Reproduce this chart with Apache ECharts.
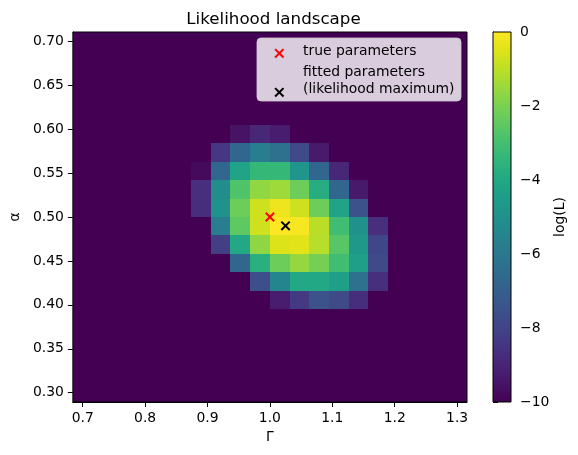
<!DOCTYPE html>
<html>
<head>
<meta charset="utf-8">
<script src="https://cdn.jsdelivr.net/npm/echarts@6/dist/echarts.min.js"></script>
<style>
  html, body { margin: 0; padding: 0; background: #fff; }
  #chart { width: 578px; height: 455px; }
</style>
</head>
<body>
<div id="chart"></div>
<script>
// grid of parameter values (cell centres)
const gammaValues = [0.7000, 0.7316, 0.7632, 0.7947, 0.8263, 0.8579, 0.8895, 0.9211, 0.9526, 0.9842,
                     1.0158, 1.0474, 1.0789, 1.1105, 1.1421, 1.1737, 1.2053, 1.2368, 1.2684, 1.3000];
const alphaValues = [0.3000, 0.3211, 0.3421, 0.3632, 0.3842, 0.4053, 0.4263, 0.4474, 0.4684, 0.4895,
                     0.5105, 0.5316, 0.5526, 0.5737, 0.5947, 0.6158, 0.6368, 0.6579, 0.6789, 0.7000];

// log-likelihood, one row per alpha value (clipped at -10)
const logL = [
  [-10,-10,-10,-10,-10,-10,-10,-10,-10,-10,-10,-10,-10,-10,-10,-10,-10,-10,-10,-10],
  [-10,-10,-10,-10,-10,-10,-10,-10,-10,-10,-10,-10,-10,-10,-10,-10,-10,-10,-10,-10],
  [-10,-10,-10,-10,-10,-10,-10,-10,-10,-10,-10,-10,-10,-10,-10,-10,-10,-10,-10,-10],
  [-10,-10,-10,-10,-10,-10,-10,-10,-10,-10,-10,-10,-10,-10,-10,-10,-10,-10,-10,-10],
  [-10,-10,-10,-10,-10,-10,-10,-10,-10,-10,-10,-10,-10,-10,-10,-10,-10,-10,-10,-10],
  [-10,-10,-10,-10,-10,-10,-10,-10,-10,-10,-9.2,-8.3,-7.5,-7.8,-8.7,-10,-10,-10,-10,-10],
  [-10,-10,-10,-10,-10,-10,-10,-10,-10,-7.6,-5.45,-4.0,-4.0,-4.4,-6.3,-8.65,-10,-10,-10,-10],
  [-10,-10,-10,-10,-10,-10,-10,-10,-6.7,-3.7,-2.25,-1.6,-2.1,-3.1,-4.4,-7.8,-10,-10,-10,-10],
  [-10,-10,-10,-10,-10,-10,-10,-8.15,-4.0,-1.7,-0.55,-0.45,-1.1,-2.65,-4.7,-7.9,-10,-10,-10,-10],
  [-10,-10,-10,-10,-10,-10,-10,-5.8,-2.5,-0.75,0,-0.1,-1.05,-3.1,-5.0,-8.65,-10,-10,-10,-10],
  [-10,-10,-10,-10,-10,-10,-8.7,-5.0,-2.25,-0.75,-0.25,-0.75,-2.25,-4.2,-7.5,-10,-10,-10,-10,-10],
  [-10,-10,-10,-10,-10,-10,-8.65,-5.1,-2.8,-1.65,-1.45,-2.25,-3.8,-6.7,-9.3,-10,-10,-10,-10,-10],
  [-10,-10,-10,-10,-10,-10,-9.75,-6.7,-4.2,-3.35,-3.35,-4.8,-6.7,-8.9,-10,-10,-10,-10,-10,-10],
  [-10,-10,-10,-10,-10,-10,-10,-8.4,-6.7,-5.8,-6.3,-7.8,-9.3,-10,-10,-10,-10,-10,-10,-10],
  [-10,-10,-10,-10,-10,-10,-10,-10,-9.5,-8.9,-9.2,-10,-10,-10,-10,-10,-10,-10,-10,-10],
  [-10,-10,-10,-10,-10,-10,-10,-10,-10,-10,-10,-10,-10,-10,-10,-10,-10,-10,-10,-10],
  [-10,-10,-10,-10,-10,-10,-10,-10,-10,-10,-10,-10,-10,-10,-10,-10,-10,-10,-10,-10],
  [-10,-10,-10,-10,-10,-10,-10,-10,-10,-10,-10,-10,-10,-10,-10,-10,-10,-10,-10,-10],
  [-10,-10,-10,-10,-10,-10,-10,-10,-10,-10,-10,-10,-10,-10,-10,-10,-10,-10,-10,-10],
  [-10,-10,-10,-10,-10,-10,-10,-10,-10,-10,-10,-10,-10,-10,-10,-10,-10,-10,-10,-10]
];

const trueParams = [[1.0, 0.5]];
const fittedParams = [[1.025, 0.490]];

const gammaTicks = [0.7, 0.8, 0.9, 1.0, 1.1, 1.2, 1.3];
const alphaTicks = [0.30, 0.35, 0.40, 0.45, 0.50, 0.55, 0.60, 0.65, 0.70];

const viridis = ['#440154', '#471365', '#482475', '#463480', '#414487', '#3b528b', '#355f8d',
                 '#2f6c8e', '#2a788e', '#25848e', '#21918c', '#1e9c89', '#22a884', '#2fb47c',
                 '#44bf70', '#5ec962', '#7ad151', '#9bd93c', '#bddf26', '#dfe318', '#fde725'];

const FONT = 'DejaVu Sans';
const dGamma = (gammaValues[1] - gammaValues[0]) / 2;
const dAlpha = (alphaValues[1] - alphaValues[0]) / 2;

const cells = [];
alphaValues.forEach((a, j) => {
  gammaValues.forEach((g, i) => {
    cells.push([g, a, logL[j][i]]);
  });
});

const chart = echarts.init(document.getElementById('chart'), null, { renderer: 'canvas' });

const renderCross = (color) => (params, api) => {
  const p = api.coord([api.value(0), api.value(1)]);
  const h = 4.2;
  const style = { stroke: color, lineWidth: 2 };
  return {
    type: 'group',
    children: [
      { type: 'line', shape: { x1: p[0] - h, y1: p[1] - h, x2: p[0] + h, y2: p[1] + h }, style },
      { type: 'line', shape: { x1: p[0] - h, y1: p[1] + h, x2: p[0] + h, y2: p[1] - h }, style }
    ]
  };
};

const minus = (v) => String(v).replace('-', '\u2212');

// legend box drawn by hand (matplotlib style)
const LX = 257, LY = 38;
const crossLines = (cx, cy, color) => [
  { type: 'line', z: 20, shape: { x1: cx - 4.2, y1: cy - 4.2, x2: cx + 4.2, y2: cy + 4.2 },
    style: { stroke: color, lineWidth: 2 } },
  { type: 'line', z: 20, shape: { x1: cx - 4.2, y1: cy + 4.2, x2: cx + 4.2, y2: cy - 4.2 },
    style: { stroke: color, lineWidth: 2 } }
];
const legendText = (text, y) => ({
  type: 'text', z: 20, x: LX + 46, y: LY + y,
  style: { text, fontFamily: FONT, fontSize: 13.9, fill: '#000', verticalAlign: 'middle', align: 'left' }
});

const option = {
  backgroundColor: '#fff',
  animation: false,
  textStyle: { fontFamily: FONT },
  title: {
    text: 'Likelihood landscape',
    left: 268.5,
    textAlign: 'center',
    top: 6,
    textStyle: { fontFamily: FONT, fontSize: 16.7, fontWeight: 'normal', color: '#000' }
  },
  grid: [
    { left: 70, top: 32, width: 397, height: 370, show: true, z: 3,
      backgroundColor: 'transparent', borderColor: '#000', borderWidth: 1 },
    { left: 493, top: 32, width: 18, height: 370 }
  ],
  xAxis: [
    {
      type: 'value', gridIndex: 0,
      min: gammaValues[0] - dGamma, max: gammaValues[gammaValues.length - 1] + dGamma,
      name: 'Γ', nameLocation: 'middle', nameGap: 27,
      nameTextStyle: { fontFamily: FONT, fontSize: 13.9, color: '#000' },
      axisLine: { show: true, lineStyle: { color: '#000', width: 1 } },
      axisTick: { show: true, length: 5, lineStyle: { color: '#000' }, customValues: gammaTicks },
      axisLabel: { color: '#000', fontSize: 13.9, fontFamily: FONT, margin: 9,
                   customValues: gammaTicks, formatter: (v) => v.toFixed(1) },
      splitLine: { show: false }
    },
    { type: 'value', gridIndex: 1, min: 0, max: 1, show: false }
  ],
  yAxis: [
    {
      type: 'value', gridIndex: 0,
      min: alphaValues[0] - dAlpha, max: alphaValues[alphaValues.length - 1] + dAlpha,
      name: 'α', nameLocation: 'middle', nameGap: 48,
      nameTextStyle: { fontFamily: FONT, fontSize: 13.9, color: '#000' },
      axisLine: { show: true, lineStyle: { color: '#000', width: 1 } },
      axisTick: { show: true, length: 5, lineStyle: { color: '#000' }, customValues: alphaTicks },
      axisLabel: { color: '#000', fontSize: 13.9, fontFamily: FONT, margin: 9,
                   customValues: alphaTicks, formatter: (v) => v.toFixed(2) },
      splitLine: { show: false }
    },
    {
      type: 'value', gridIndex: 1, position: 'right',
      min: -10, max: 0, interval: 2,
      name: 'log(L)', nameLocation: 'middle', nameGap: 42,
      nameTextStyle: { fontFamily: FONT, fontSize: 13.9, color: '#000' },
      axisLine: { show: true, lineStyle: { color: '#000', width: 1 } },
      axisTick: { show: true, length: 5, lineStyle: { color: '#000' } },
      axisLabel: { color: '#000', fontSize: 13.9, fontFamily: FONT, margin: 9, formatter: minus },
      splitLine: { show: false }
    }
  ],
  visualMap: {
    type: 'continuous', show: false, min: -10, max: 0,
    dimension: 2, seriesIndex: 0,
    inRange: { color: viridis }
  },
  series: [
    {
      type: 'custom', xAxisIndex: 0, yAxisIndex: 0,
      data: cells,
      renderItem: (params, api) => {
        const g = api.value(0), a = api.value(1);
        const p0 = api.coord([g - dGamma, a + dAlpha]);
        const p1 = api.coord([g + dGamma, a - dAlpha]);
        const x0 = Math.round(p0[0]), y0 = Math.round(p0[1]);
        const x1 = Math.round(p1[0]), y1 = Math.round(p1[1]);
        return {
          type: 'rect',
          shape: { x: x0, y: y0, width: x1 - x0, height: y1 - y0 },
          style: { fill: api.visual('color') }
        };
      }
    },
    {
      type: 'custom', xAxisIndex: 1, yAxisIndex: 1,
      data: [[0, -10, 1, 0]],
      renderItem: (params, api) => {
        const p0 = api.coord([api.value(0), api.value(3)]);
        const p1 = api.coord([api.value(2), api.value(1)]);
        return {
          type: 'rect',
          shape: { x: p0[0], y: p0[1], width: p1[0] - p0[0], height: p1[1] - p0[1] },
          style: {
            fill: new echarts.graphic.LinearGradient(0, 1, 0, 0,
              viridis.map((c, k) => ({ offset: k / (viridis.length - 1), color: c }))),
            stroke: '#000', lineWidth: 1
          }
        };
      }
    },
    {
      name: 'true parameters', type: 'custom', xAxisIndex: 0, yAxisIndex: 0, z: 5,
      data: trueParams, renderItem: renderCross('#ff0000')
    },
    {
      name: 'fitted parameters', type: 'custom', xAxisIndex: 0, yAxisIndex: 0, z: 5,
      data: fittedParams, renderItem: renderCross('#000000')
    }
  ],
  graphic: {
    elements: [
      { type: 'rect', z: 19, shape: { x: LX, y: LY, width: 204, height: 63, r: 4 },
        style: { fill: 'rgba(255,255,255,0.8)', stroke: 'rgba(204,204,204,0.8)', lineWidth: 1 } },
      ...crossLines(LX + 22.3, LY + 15.3, '#ff0000'),
      ...crossLines(LX + 22.3, LY + 54.3, '#000000'),
      legendText('true parameters', 13.5),
      legendText('fitted parameters', 34.5),
      legendText('(likelihood maximum)', 51)
    ]
  }
};

chart.setOption(option);
</script>
</body>
</html>
